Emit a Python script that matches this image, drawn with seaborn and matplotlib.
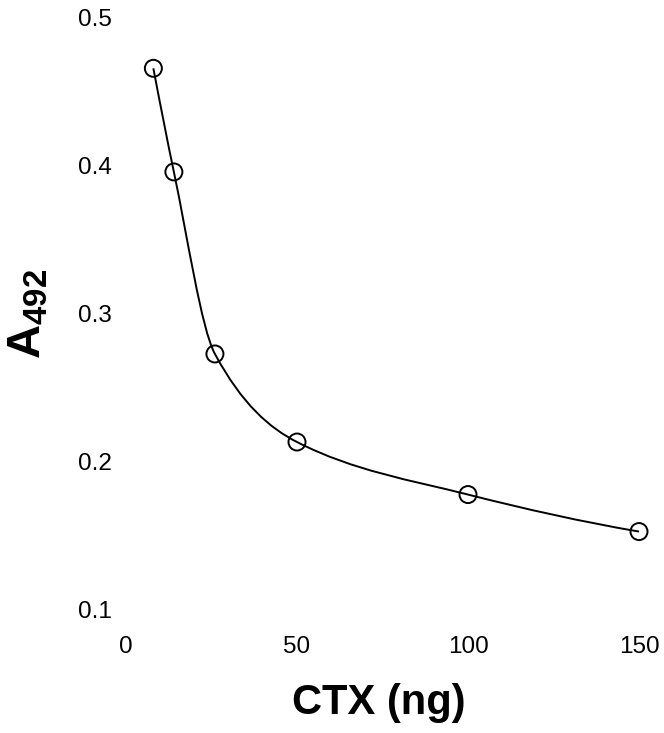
import numpy as np
import pandas as pd
import matplotlib
matplotlib.use("Agg")
import matplotlib.pyplot as plt
import seaborn as sns
from matplotlib.path import Path
from matplotlib.patches import PathPatch

# ---- data ----
ctx_ng = [8, 14, 26, 50, 100, 150]
a492 = [0.466, 0.396, 0.273, 0.2135, 0.178, 0.153]
x_ticks = [0, 50, 100, 150]
x_ticklabels = ["0", "50", "100", "150"]
y_ticks = [0.1, 0.2, 0.3, 0.4, 0.5]
y_ticklabels = ["0.1", "0.2", "0.3", "0.4", "0.5"]
x_label = "CTX (ng)"
y_label = r"$\mathbf{A_{492}}$"

sns.set_theme(style="white")
plt.rcParams["font.family"] = ["Liberation Sans", "DejaVu Sans"]
plt.rcParams["mathtext.fontset"] = "custom"
plt.rcParams["mathtext.rm"] = "Liberation Sans"
plt.rcParams["mathtext.bf"] = "Liberation Sans:bold"

W, H = 664, 733
fig = plt.figure(figsize=(W / 100, H / 100), dpi=100)
fig.patch.set_facecolor("white")
ax = fig.add_axes([126 / W, 1 - 610 / H, 513 / W, 592 / H])

df = pd.DataFrame({"ctx": ctx_ng, "a": a492})

# smooth curve through the points: cubic Bezier path (monotone Hermite tangents)
x = np.asarray(ctx_ng, float)
y = np.asarray(a492, float)
h = np.diff(x)
d = np.diff(y) / h
n = len(x)
m = np.zeros(n)
for k in range(1, n - 1):
    if d[k - 1] * d[k] > 0:
        w1 = 2 * h[k] + h[k - 1]
        w2 = h[k] + 2 * h[k - 1]
        m[k] = (w1 + w2) / (w1 / d[k - 1] + w2 / d[k])
m[0] = ((2 * h[0] + h[1]) * d[0] - h[0] * d[1]) / (h[0] + h[1])
if np.sign(m[0]) != np.sign(d[0]):
    m[0] = 0
m[-1] = ((2 * h[-1] + h[-2]) * d[-1] - h[-1] * d[-2]) / (h[-1] + h[-2])
if np.sign(m[-1]) != np.sign(d[-1]):
    m[-1] = 0
verts = [(x[0], y[0])]
codes = [Path.MOVETO]
for k in range(n - 1):
    verts += [(x[k] + h[k] / 3, y[k] + m[k] * h[k] / 3),
              (x[k + 1] - h[k] / 3, y[k + 1] - m[k + 1] * h[k] / 3),
              (x[k + 1], y[k + 1])]
    codes += [Path.CURVE4] * 3
ax.add_patch(PathPatch(Path(verts, codes), fill=False, edgecolor="black",
                       linewidth=1.4, transform=ax.transData, zorder=2,
                       clip_on=False))

sns.scatterplot(data=df, x="ctx", y="a", ax=ax, marker="o", s=150,
                facecolor="none", edgecolor="black", linewidth=1.4, zorder=3,
                legend=False, clip_on=False)

ax.set_xlim(0, 150)
ax.set_ylim(0.1, 0.5)
ax.set_xticks(x_ticks)
ax.set_xticklabels(x_ticklabels)
ax.set_yticks(y_ticks)
ax.set_yticklabels(y_ticklabels)
for s in ax.spines.values():
    s.set_visible(False)
ax.tick_params(axis="both", length=0, labelsize=17.5, colors="black")
ax.tick_params(axis="x", pad=19)
ax.tick_params(axis="y", pad=10)
ax.grid(False)
ax.set_facecolor("white")

ax.set_xlabel(x_label, fontsize=30, fontweight="bold", color="black")
ax.set_ylabel(y_label, fontsize=34, color="black")
ax.xaxis.label.set(va="center", ha="center")
ax.xaxis.set_label_coords((379 - 126) / 513, (610 - 703) / 592)
ax.yaxis.label.set(va="center", ha="center", rotation_mode="default")
ax.yaxis.set_label_coords((28 - 126) / 513, 0.5)

fig.savefig("out.png", dpi=100, facecolor="white")
